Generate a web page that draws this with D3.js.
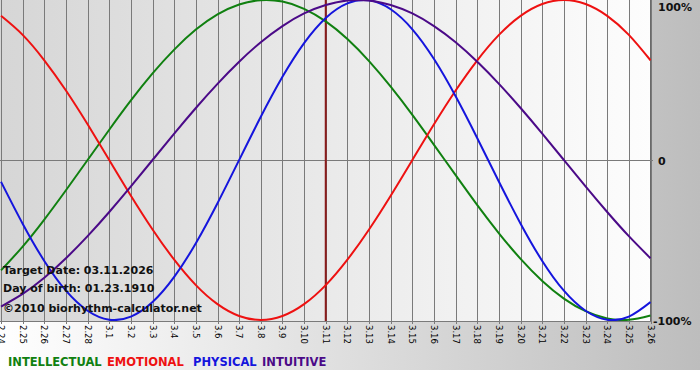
<!DOCTYPE html>
<html lang="en">
<head>
  <meta charset="UTF-8" />
  <title>Biorhythm</title>
  <script src="https://d3js.org/d3.v7.min.js"></script>
  <style>
    body { margin: 0; padding: 0; background: #fff; }
    svg { display: block; }
    .tick-label { font-family: 'DejaVu Sans', Verdana, sans-serif; font-size: 8.5px; fill: #000; }
    .info { font-family: 'DejaVu Sans', Verdana, sans-serif; font-size: 11px; font-weight: bold; fill: #111; }
    .pct { font-family: 'DejaVu Sans', Verdana, sans-serif; font-size: 11px; font-weight: bold; fill: #111; }
    .legend { font-family: 'DejaVu Sans', Verdana, sans-serif; font-size: 11.5px; font-weight: bold; }
  </style>
</head>
<body>
<div id="chart"></div>
<script>
// day labels (month.day), 2.24 .. 3.26
const days = ["2.24", "2.25", "2.26", "2.27", "2.28", "3.1", "3.2", "3.3", "3.4", "3.5",
  "3.6", "3.7", "3.8", "3.9", "3.10", "3.11", "3.12", "3.13", "3.14", "3.15", "3.16",
  "3.17", "3.18", "3.19", "3.20", "3.21", "3.22", "3.23", "3.24", "3.25", "3.26"];
const targetDay = "3.11";

// values, -1 .. 1
const intellectual = [-0.690, -0.541, -0.372, -0.189, 0.000, 0.189, 0.372, 0.541, 0.690, 0.815,
  0.910, 0.972, 0.999, 0.990, 0.945, 0.866, 0.756, 0.618, 0.458, 0.282, 0.095,
  -0.095, -0.282, -0.458, -0.618, -0.756, -0.866, -0.945, -0.990, -0.999, -0.972];
const emotional = [0.901, 0.782, 0.623, 0.434, 0.223, 0.000, -0.223, -0.434, -0.623, -0.782,
  -0.901, -0.975, -1.000, -0.975, -0.901, -0.782, -0.623, -0.434, -0.223, 0.000, 0.223,
  0.434, 0.623, 0.782, 0.901, 0.975, 1.000, 0.975, 0.901, 0.782, 0.623];
const physical = [-0.136, -0.398, -0.631, -0.817, -0.942, -0.998, -0.979, -0.888, -0.731, -0.520,
  -0.270, 0.000, 0.270, 0.520, 0.731, 0.888, 0.979, 0.998, 0.942, 0.817, 0.631,
  0.398, 0.136, -0.136, -0.398, -0.631, -0.817, -0.942, -0.998, -0.979, -0.888];
const intuitive = [-0.916, -0.837, -0.736, -0.614, -0.476, -0.325, -0.165, 0.000, 0.165, 0.325,
  0.476, 0.614, 0.736, 0.837, 0.916, 0.969, 0.997, 0.997, 0.969, 0.916, 0.837,
  0.736, 0.614, 0.476, 0.325, 0.165, 0.000, -0.165, -0.325, -0.476, -0.614];

const seriesNames = ["INTELLECTUAL", "EMOTIONAL", "PHYSICAL", "INTUITIVE"];
const seriesColors = ["#108010", "#ee1111", "#1515dd", "#4b0a88"];
const legendX = [8, 107, 193, 262];
const yTicks = [1, 0, -1];
const yTickLabels = ["100%", "0", "-100%"];
const infoLines = ["Target Date: 03.11.2026", "Day of birth: 01.23.1910", "\u00a92010 biorhythm-calculator.net"];

const width = 700, height = 380;
const plot = { left: 0, right: 651, top: 0, bottom: 321 };

const svg = d3.select("#chart").append("svg")
  .attr("width", width).attr("height", height);

const defs = svg.append("defs");
const outerGrad = defs.append("linearGradient").attr("id", "outerGrad");
outerGrad.append("stop").attr("offset", "0%").attr("stop-color", "#ffffff");
outerGrad.append("stop").attr("offset", "100%").attr("stop-color", "#bdbdbd");
const plotGrad = defs.append("linearGradient").attr("id", "plotGrad");
plotGrad.append("stop").attr("offset", "0%").attr("stop-color", "#d6d6d6");
plotGrad.append("stop").attr("offset", "100%").attr("stop-color", "#fdfdfd");
defs.append("clipPath").attr("id", "plotClip").append("rect")
  .attr("x", plot.left).attr("y", plot.top)
  .attr("width", plot.right - plot.left).attr("height", plot.bottom - plot.top);

// backgrounds
svg.append("rect").attr("width", width).attr("height", height).attr("fill", "#fff");
svg.append("rect").attr("width", width).attr("height", 370).attr("fill", "url(#outerGrad)");
svg.append("rect")
  .attr("x", plot.left).attr("y", plot.top)
  .attr("width", plot.right - plot.left).attr("height", plot.bottom - plot.top)
  .attr("fill", "url(#plotGrad)");

const x = d3.scalePoint().domain(days).range([1, 650.5]);
const y = d3.scaleLinear().domain([-1, 1]).range([320, 0]);

// vertical grid + ticks
const xAxis = d3.axisBottom(x).tickSize(plot.bottom + 3).tickFormat("");
const gx = svg.append("g").call(xAxis);
gx.select(".domain").remove();
gx.selectAll(".tick line").attr("stroke", "#7a7a7a").attr("shape-rendering", "crispEdges");

// rotated day labels
svg.append("g").selectAll("text")
  .data(days).join("text")
  .attr("class", "tick-label")
  .attr("transform", d => `translate(${x(d)},${plot.bottom + 4}) rotate(90)`)
  .attr("dy", "0.35em")
  .text(d => d);

// plot frame
svg.append("line").attr("x1", plot.left).attr("x2", plot.right)
  .attr("y1", plot.bottom + 0.5).attr("y2", plot.bottom + 0.5)
  .attr("stroke", "#7a7a7a");
svg.append("line").attr("x1", plot.right - 0.5).attr("x2", plot.right - 0.5)
  .attr("y1", plot.top).attr("y2", plot.bottom)
  .attr("stroke", "#6a6a6a");

// zero line
svg.append("line").attr("x1", plot.left).attr("x2", plot.right + 2)
  .attr("y1", Math.round(y(0)) + 0.5).attr("y2", Math.round(y(0)) + 0.5)
  .attr("stroke", "#7a7a7a");

// target day line
svg.append("line").attr("x1", x(targetDay)).attr("x2", x(targetDay))
  .attr("y1", plot.top).attr("y2", plot.bottom)
  .attr("stroke", "#8a1c1c").attr("stroke-width", 2);

// curves
const line = d3.line()
  .x((d, i) => x(days[i]))
  .y(d => y(d))
  .curve(d3.curveNatural);
const seriesData = [intellectual, emotional, physical, intuitive];
svg.append("g").attr("clip-path", "url(#plotClip)")
  .selectAll("path")
  .data(seriesData).join("path")
  .attr("d", line)
  .attr("fill", "none")
  .attr("stroke", (d, i) => seriesColors[i])
  .attr("stroke-width", 2);

// percentage labels
svg.append("g").selectAll("text")
  .data(yTicks).join("text")
  .attr("class", "pct")
  .attr("x", (d, i) => i === 2 ? 653 : 658)
  .attr("y", d => d === 1 ? 11 : y(d) + 5)
  .text((d, i) => yTickLabels[i]);

// info text
svg.append("g").selectAll("text")
  .data(infoLines).join("text")
  .attr("class", "info")
  .attr("x", 3)
  .attr("y", (d, i) => [274, 292, 312][i])
  .text(d => d);

// legend
svg.append("g").selectAll("text")
  .data(seriesNames).join("text")
  .attr("class", "legend")
  .attr("x", (d, i) => legendX[i])
  .attr("y", 366)
  .attr("fill", (d, i) => seriesColors[i])
  .text(d => d);
</script>
</body>
</html>
